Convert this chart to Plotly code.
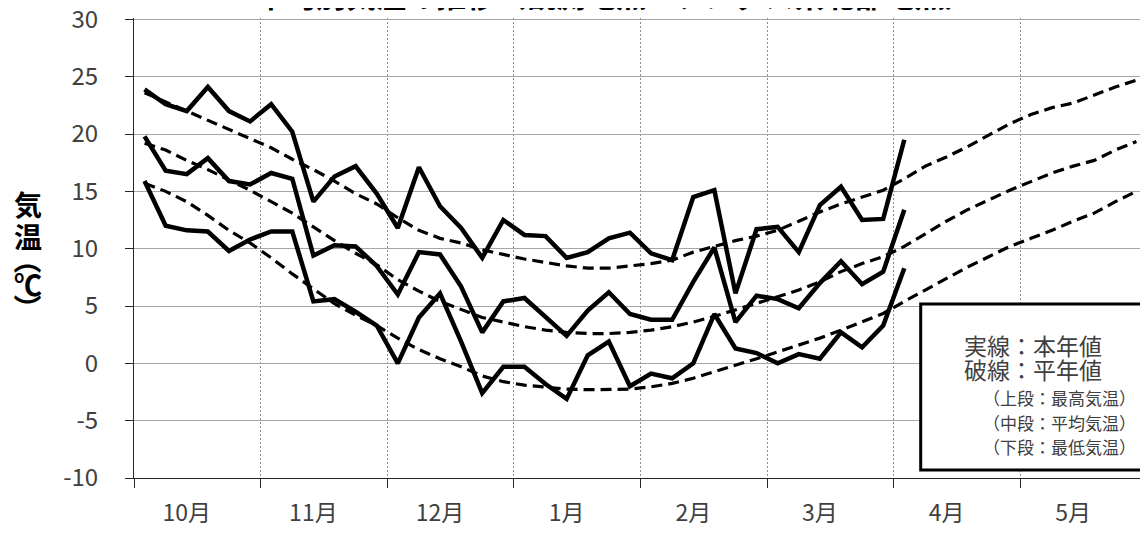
import plotly.graph_objects as go

# ---- data ----
months = ["10月", "11月", "12月", "1月", "2月", "3月", "4月", "5月"]
pentads_per_month = 6
n_pentads = len(months) * pentads_per_month

# this year (solid)
max_this = [23.9, 22.6, 22.0, 24.1, 22.0, 21.1, 22.6, 20.2, 14.1, 16.3, 17.2, 14.8, 11.8, 17.1, 13.7, 11.8,
            9.2, 12.5, 11.2, 11.1, 9.2, 9.7, 10.9, 11.4, 9.6, 9.0, 14.5, 15.1, 6.1, 11.7, 11.9, 9.7,
            13.8, 15.4, 12.5, 12.6, 19.5]
mean_this = [19.8, 16.8, 16.5, 17.9, 15.9, 15.6, 16.6, 16.1, 9.4, 10.3, 10.2, 8.5, 6.0, 9.7, 9.5, 6.7,
             2.7, 5.4, 5.7, 4.1, 2.4, 4.6, 6.2, 4.3, 3.8, 3.8, 7.1, 10.1, 3.6, 5.9, 5.6, 4.8,
             7.0, 8.9, 6.9, 8.0, 13.4]
min_this = [15.9, 12.0, 11.6, 11.5, 9.8, 10.8, 11.5, 11.5, 5.4, 5.6, 4.5, 3.3, 0.0, 4.0, 6.1, 1.9,
            -2.6, -0.3, -0.3, -1.8, -3.1, 0.7, 1.9, -2.0, -0.9, -1.3, 0.0, 4.3, 1.3, 0.9, 0.0, 0.8,
            0.4, 2.7, 1.4, 3.3, 8.3]

# normals (dashed)
max_norm = [23.6, 22.8, 22.0, 21.2, 20.4, 19.6, 18.8, 17.8, 16.9, 15.9, 14.8, 13.9, 12.7, 11.6, 10.9, 10.5,
            9.9, 9.5, 9.1, 8.8, 8.5, 8.3, 8.3, 8.5, 8.7, 9.0, 9.7, 10.2, 10.7, 11.1, 11.6, 12.4,
            13.2, 13.9, 14.5, 15.1, 16.1, 17.2, 18.0, 18.9, 19.9, 20.9, 21.7, 22.3, 22.7, 23.4, 24.1, 24.7]
mean_norm = [19.2, 18.6, 17.7, 16.9, 16.0, 15.1, 14.1, 13.1, 11.9, 10.7, 9.6, 8.6, 7.3, 6.3, 5.4, 4.7,
             4.0, 3.6, 3.2, 2.9, 2.7, 2.6, 2.6, 2.7, 2.9, 3.2, 3.6, 4.1, 4.65, 5.2, 5.8, 6.4,
             7.1, 8.0, 8.7, 9.3, 10.2, 11.3, 12.4, 13.4, 14.25, 15.1, 15.85, 16.6, 17.2, 17.7, 18.6, 19.35]
min_norm = [15.7, 15.0, 14.1, 12.9, 11.6, 10.5, 9.2, 7.8, 6.5, 5.2, 4.2, 3.3, 2.2, 1.2, 0.4, -0.3,
            -1.1, -1.6, -1.9, -2.1, -2.25, -2.3, -2.3, -2.25, -2.05, -1.75, -1.3, -0.75, -0.15, 0.4, 1.0, 1.6,
            2.2, 2.9, 3.6, 4.35, 5.4, 6.4, 7.4, 8.4, 9.3, 10.2, 10.9, 11.6, 12.4, 13.1, 14.1, 15.0]

y_ticks = [-10, -5, 0, 5, 10, 15, 20, 25, 30]
y_ticktext = ["-10", "-5", "0", "5", "10", "15", "20", "25", "30"]

title_text = "半旬別気温の推移（観測地点：アメダス県北部地点）"
legend_big = ["実線：本年値", "破線：平年値"]
legend_small = ["（上段：最高気温）", "（中段：平均気温）", "（下段：最低気温）"]
ytitle_chars = ["気", "温", "（", "℃", "）"]
ytitle_angles = [0, 0, 90, 0, 90]

FONT = "Noto Sans CJK JP"

x_norm = list(range(len(max_norm)))
x_this = list(range(len(max_this)))

fig = go.Figure()
for ys in (max_norm, mean_norm, min_norm):
    fig.add_trace(go.Scatter(x=x_norm, y=ys, mode="lines",
                             line=dict(color="black", width=3.2, dash="11px,6px"),
                             showlegend=False, hoverinfo="skip"))
for ys in (max_this, mean_this, min_this):
    fig.add_trace(go.Scatter(x=x_this, y=ys, mode="lines",
                             line=dict(color="black", width=4.5),
                             showlegend=False, hoverinfo="skip"))

fig.update_layout(
    width=1148, height=534,
    margin=dict(l=126, r=9, t=10, b=64, autoexpand=False),
    plot_bgcolor="white", paper_bgcolor="white",
    font=dict(family=FONT, color="#404040"),
    showlegend=False,
)

fig.update_xaxes(
    range=[-0.5, n_pentads - 0.5],
    automargin=False,
    tickmode="array",
    tickvals=[m * pentads_per_month + 2 for m in range(len(months))],
    ticktext=months,
    ticks="",
    showgrid=False,
    zeroline=False,
    showline=True, linecolor="#262626", linewidth=1,
    tickfont=dict(size=23, color="#404040", family=FONT),
    ticklabelstandoff=14,
    minor=dict(tick0=-0.5, dtick=pentads_per_month, showgrid=True,
               gridcolor="#8c8c8c", gridwidth=1, griddash="2px,2px",
               ticks="outside", ticklen=9, tickcolor="#262626", tickwidth=1),
)

fig.update_yaxes(
    range=[-10, 30.12],
    automargin=False,
    tickmode="array", tickvals=y_ticks, ticktext=y_ticktext,
    ticklabeloverflow="allow",
    ticks="outside", ticklen=8, tickcolor="#262626", tickwidth=1,
    showgrid=True, gridcolor="#a6a6a6", gridwidth=1,
    zeroline=False,
    showline=True, linecolor="#262626", linewidth=1,
    tickfont=dict(size=24, color="#404040", family=FONT),
    ticklabelstandoff=22,
)

# legend box
fig.add_shape(type="rect", xref="paper", yref="paper",
              x0=0.7766, x1=0.9957, y0=0.0174, y1=0.378,
              line=dict(color="black", width=3), fillcolor="white", layer="above")

annotations = []
for txt, yy in zip(legend_big, [0.2891, 0.2370]):
    annotations.append(dict(text=txt, xref="paper", yref="paper", x=0.8875, y=yy,
                            xanchor="center", yanchor="middle", showarrow=False,
                            font=dict(size=23, color="#404040", family=FONT)))
for txt, yy in zip(legend_small, [0.174, 0.1196, 0.0674]):
    annotations.append(dict(text=txt, xref="paper", yref="paper", x=0.991, y=yy,
                            xanchor="right", yanchor="middle", showarrow=False,
                            font=dict(size=17, color="#404040", family=FONT)))
# y-axis title (vertical, upright characters; parentheses turned for vertical writing)
for ch, ang, yy in zip(ytitle_chars, ytitle_angles, [0.5957, 0.526, 0.474, 0.4217, 0.3696]):
    annotations.append(dict(text="<b>" + ch + "</b>", xref="paper", yref="paper", x=-0.1046, y=yy,
                            xanchor="center", yanchor="middle", showarrow=False, textangle=ang,
                            font=dict(size=28, color="black", family=FONT)))
# title (mostly clipped off the top like the reference)
annotations.append(dict(text="<b>" + title_text + "</b>", xref="paper", yref="paper", x=0.475, y=1,
                        xanchor="center", yanchor="bottom", yshift=0, showarrow=False,
                        font=dict(size=30, color="black", family=FONT)))
fig.update_layout(annotations=annotations)

fig.write_html("out.html")
